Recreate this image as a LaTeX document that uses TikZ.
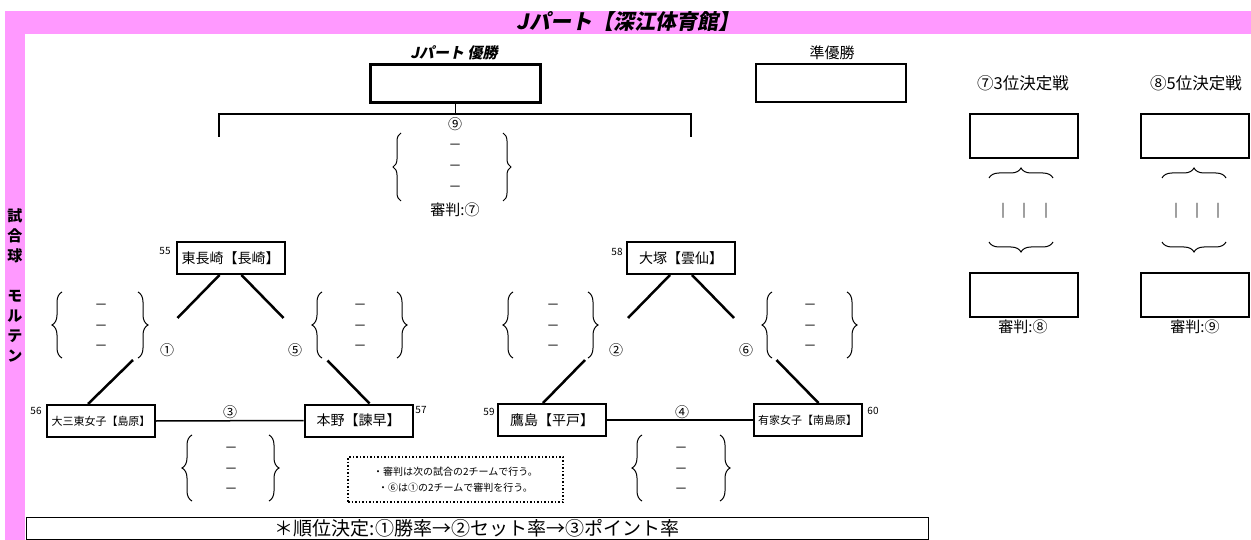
\documentclass[tikz,border=0pt]{standalone}
\usepackage{fontspec}
\setmainfont{Noto Sans CJK JP}
\newfontfamily\jpsl[FakeSlant=0.2]{Noto Sans CJK JP}
\usetikzlibrary{decorations.pathreplacing,calc}
\definecolor{pinkband}{RGB}{255,153,255}
\tikzset{
  titletxt/.style={font=\jpsl\bfseries\fontsize{21}{21}\selectfont, inner sep=0pt},
  headbi/.style={font=\jpsl\bfseries\fontsize{15}{15}\selectfont, inner sep=0pt},
  head/.style={font=\fontsize{15}{15}\selectfont, inner sep=0pt},
  headlg/.style={font=\fontsize{16.5}{16.5}\selectfont, inner sep=0pt},
  vtxt/.style={font=\bfseries\fontsize{15}{20}\selectfont, align=center, inner sep=0pt},
  resbox/.style={draw, line width=2pt, minimum width=108, minimum height=44, inner sep=0pt},
  team/.style={draw, line width=2pt, minimum width=108, minimum height=32, inner sep=0pt, font=\fontsize{14}{14}\selectfont},
  teamsm/.style={team, font=\fontsize{11}{11}\selectfont},
  seed/.style={font=\fontsize{10}{10}\selectfont, inner sep=0pt},
  circ/.style={font=\fontsize{14}{14}\selectfont, inner sep=0pt},
  dashtxt/.style={font=\fontsize{13}{13}\selectfont, inner sep=0pt},
  bartxt/.style={font=\bfseries\fontsize{15}{15}\selectfont, inner sep=0pt},
  link/.style={line width=2.5pt},
  hline/.style={line width=1.5pt},
  tree/.style={line width=1.5pt},
  brc/.style={line width=1pt, decorate, decoration={brace, amplitude=#1}},
  brc/.default=10pt,
}
\newcommand\mkgrp[4]{%
  \draw[brc] (#1,#4+66) -- (#1,#4);
  \draw[brc] (#2,#4) -- (#2,#4+66);
  \node[dashtxt] at (#3,#4+15) {－};
  \node[dashtxt] at (#3,#4+36) {－};
  \node[dashtxt] at (#3,#4+56) {－};
}
\begin{document}
\begin{tikzpicture}[x=1pt,y=-1pt]
\useasboundingbox (0,0) rectangle (1251,540);
\fill[pinkband] (5,11) rectangle (1251,34);
\fill[pinkband] (5,34) rectangle (25,540);
\node[titletxt] (title) at (628,22) {Jパート【深江体育館】};
\node[vtxt] (side) at (15,285) {試\\合\\球\\[20pt]モ\\ル\\テ\\ン};

% final
\node[draw, line width=3pt, minimum width=170, minimum height=38, inner sep=0pt] (champ) at (455.5,83.5) {};
\node[headbi] (champlbl) at (454,53) {Jパート 優勝};
\node[draw, line width=2pt, minimum width=150, minimum height=38, inner sep=0pt] (runner) at (831,83) {};
\node[head] (runnerlbl) at (832,53) {準優勝};
\coordinate (tj) at (455.5,114);
\coordinate (tL) at (219,137);
\coordinate (tR) at (691,137);
\draw[tree] (champ.south) -- (tj);
\draw[tree] (tL) -- (tL |- tj) -- (tR |- tj) -- (tR);
\node[circ] (m9) at (455,124) {⑨};
\draw[brc=8pt] (401,201) -- (401,133);
\draw[brc=8pt] (503,133) -- (503,201);
\node[dashtxt] at (455,147) {－};
\node[dashtxt] at (455,168) {－};
\node[dashtxt] at (455,189) {－};
\node[head] (ref7) at (455,210) {審判:⑦};

% placement matches
\node[headlg] (h3) at (1023,83) {⑦3位決定戦};
\node[headlg] (h5) at (1196,83) {⑧5位決定戦};
\node[resbox] (p3a) at (1024,136) {};
\node[resbox] (p3b) at (1024,295) {};
\node[resbox] (p5a) at (1195,136) {};
\node[resbox] (p5b) at (1195,295) {};
\draw[brc] (989,178) -- (1053,178);
\draw[brc] (1053,242) -- (989,242);
\draw[brc] (1162,178) -- (1226,178);
\draw[brc] (1226,242) -- (1162,242);
\node[bartxt] at (1003,211) {｜};
\node[bartxt] at (1024,211) {｜};
\node[bartxt] at (1046,211) {｜};
\node[bartxt] at (1176,211) {｜};
\node[bartxt] at (1197,211) {｜};
\node[bartxt] at (1218,211) {｜};
\node[head] (ref8) at (1023,327) {審判:⑧};
\node[head] (ref9) at (1195,327) {審判:⑨};

% left league
\node[team] (T55) at (230.5,258) {東長崎【長崎】};
\node[teamsm] (T56) at (101,421) {大三東女子【島原】};
\node[team] (T57) at (358.5,420.5) {本野【諫早】};
\node[seed] at (165,251) {55};
\node[seed] at (36,411) {56};
\node[seed] at (421,410) {57};
\draw[link] ($(T55.south)+(-11,0)$) -- ++(-42,43);
\draw[link] ($(T56.north)+(-13,0)$) -- ++(45,-44);
\draw[link] ($(T55.south)+(11,0)$) -- ++(42,43);
\draw[link] ($(T57.north)+(11,0)$) -- ++(-42,-43);
\draw[hline] (T56.east) -- (T57.west);
\node[circ] (m1) at (167,350) {①};
\node[circ] (m5) at (295,350) {⑤};
\node[circ] (m3) at (230,412) {③};
\mkgrp{62}{138}{101}{292}
\mkgrp{322}{397}{360}{292}
\mkgrp{192}{269}{231}{435}

% right league
\node[team] (T58) at (681,258) {大塚【雲仙】};
\node[team] (T59) at (552,420) {鷹島【平戸】};
\node[teamsm] (T60) at (807.5,420) {有家女子【南島原】};
\node[seed] at (617,252) {58};
\node[seed] at (489,412) {59};
\node[seed] at (873,411) {60};
\draw[link] ($(T58.south)+(-11,0)$) -- ++(-42,43);
\draw[link] ($(T59.north)+(-9,0)$) -- ++(42,-43);
\draw[link] ($(T58.south)+(11,0)$) -- ++(42,43);
\draw[link] ($(T60.north)+(11,0)$) -- ++(-42,-43);
\draw[hline] (T59.east) -- (T60.west);
\node[circ] (m2) at (616,350) {②};
\node[circ] (m6) at (746,350) {⑥};
\node[circ] (m4) at (682,412) {④};
\mkgrp{513}{588}{553}{292}
\mkgrp{772}{847}{810}{292}
\mkgrp{642}{720}{681}{435}

% notes
\node[draw, dotted, line width=1.5pt, minimum width=215, minimum height=45, inner sep=0pt, align=center, font=\fontsize{10}{16}\selectfont] (note) at (455.5,479.5) {・審判は次の試合の2チームで行う。\\・⑥は①の2チームで審判を行う。};
\node[draw, line width=1pt, minimum width=902, minimum height=22, inner sep=0pt, font=\fontsize{19}{19}\selectfont] (rank) at (477,528) {＊順位決定:①勝率→②セット率→③ポイント率};
\end{tikzpicture}
\end{document}
